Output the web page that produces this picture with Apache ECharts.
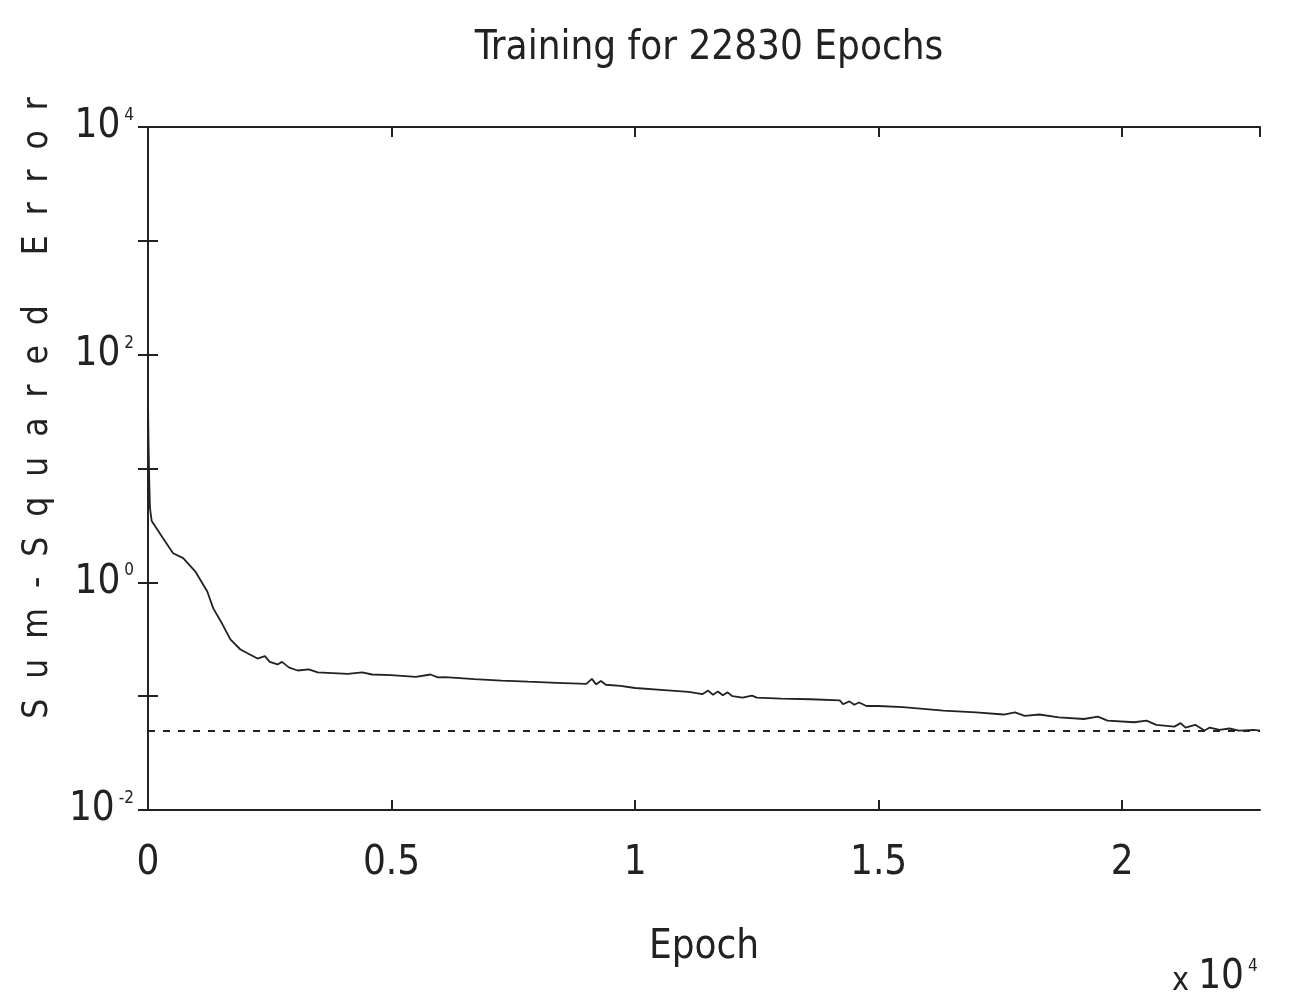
<!DOCTYPE html>
<html lang="en">
<head>
    <meta charset="UTF-8">
    <title>Training for 22830 Epochs</title>
    <script src="https://cdn.jsdelivr.net/npm/echarts@6/dist/echarts.min.js"></script>
    <style>
        html, body { margin: 0; padding: 0; background: #fff; }
        #main { width: 1290px; height: 1002px; }
    </style>
</head>
<body>
    <div id="main"></div>
    <script type="text/javascript">
        // epochs, sum-squared error off the log y axis
        var epochs = [0, 10, 25, 40, 76, 309, 515, 722, 969, 1217, 1340, 1526, 1691, 1897, 2248,
            2400, 2500, 2660, 2750, 2900, 3072, 3300, 3485, 4100, 4400, 4600, 4990, 5500, 5800,
            5950, 6100, 6700, 7258, 7800, 8400, 9000, 9113, 9200, 9300, 9400, 9700, 10000, 10600,
            11100, 11381, 11500, 11600, 11700, 11800, 11900, 12000, 12206, 12400, 12500, 13000,
            13600, 14200, 14268, 14400, 14500, 14600, 14750, 14990, 15500, 16330, 17000, 17567,
            17800, 18000, 18300, 18700, 19216, 19500, 19700, 20247, 20500, 20700, 21072, 21200,
            21300, 21500, 21690, 21800, 22000, 22200, 22400, 22700, 22830];
        var sse = [40, 18, 8, 4.5, 3.45, 2.44, 1.8, 1.63, 1.25, 0.83, 0.59, 0.43, 0.315, 0.257, 0.214,
            0.225, 0.2, 0.19, 0.2, 0.178, 0.168, 0.172, 0.162, 0.157, 0.162, 0.155, 0.153, 0.148, 0.155,
            0.146, 0.147, 0.141, 0.137, 0.134, 0.131, 0.128, 0.142, 0.127, 0.136, 0.126, 0.123, 0.118, 0.113,
            0.109, 0.104, 0.112, 0.103, 0.11, 0.102, 0.108, 0.1, 0.097, 0.101, 0.097, 0.095,
            0.094, 0.092, 0.085, 0.09, 0.084, 0.088, 0.082, 0.082, 0.080, 0.0745, 0.072, 0.069,
            0.072, 0.067, 0.069, 0.065, 0.063, 0.066, 0.061, 0.059, 0.061, 0.056, 0.054, 0.058,
            0.053, 0.056, 0.050, 0.053, 0.0505, 0.052, 0.0499, 0.0505, 0.0498];
        var goal = 0.05;
        var maxEpoch = 22830;

        var font = "'Liberation Sans Narrow', 'DejaVu Sans Condensed', 'Roboto Condensed', sans-serif";
        var ink = '#222';

        var myChart = echarts.init(document.getElementById('main'));

        var points = epochs.map(function (e, i) { return [e, sse[i]]; });

        function yLabel(v) {
            var e = Math.round(Math.log10(v));
            if (e % 2 !== 0) return '';
            return '{b|10}{s|' + e + '}';
        }

        var option = {
            backgroundColor: '#fff',
            animation: false,
            title: {
                text: 'Training for 22830 Epochs',
                left: 704,
                top: 24,
                textAlign: 'center',
                textStyle: { fontFamily: font, fontSize: 40, fontWeight: 'normal', color: ink }
            },
            grid: { left: 148, right: 30, top: 127, bottom: 192 },
            xAxis: [{
                type: 'value',
                min: 0,
                max: maxEpoch,
                interval: 5000,
                name: 'Epoch',
                nameLocation: 'middle',
                nameGap: 118,
                nameTextStyle: { fontFamily: font, fontSize: 40, color: ink },
                axisLine: { lineStyle: { color: ink, width: 2 } },
                axisTick: { inside: true, length: 10, lineStyle: { color: ink, width: 2 } },
                axisLabel: {
                    margin: 34,
                    fontFamily: font,
                    fontSize: 40,
                    color: ink,
                    showMaxLabel: false,
                    formatter: function (v) { return v % 5000 === 0 ? String(v / 10000) : ''; }
                },
                splitLine: { show: false }
            }, {
                type: 'value',
                position: 'top',
                min: 0,
                max: maxEpoch,
                interval: 5000,
                axisLine: { lineStyle: { color: ink, width: 2 } },
                axisTick: { inside: true, length: 10, lineStyle: { color: ink, width: 2 } },
                axisLabel: { show: false },
                splitLine: { show: false }
            }],
            yAxis: [{
                type: 'log',
                logBase: 10,
                min: 0.01,
                max: 10000,
                axisLine: { show: true, lineStyle: { color: ink, width: 2 } },
                axisTick: { show: true, inside: true, length: 10, lineStyle: { color: ink, width: 2 } },
                axisLabel: {
                    margin: 14,
                    formatter: yLabel,
                    rich: {
                        b: { fontFamily: font, fontSize: 40, color: ink, verticalAlign: 'bottom' },
                        s: { fontFamily: font, fontSize: 17, color: ink, verticalAlign: 'top', padding: [0, 0, 0, 4] }
                    }
                },
                splitLine: { show: false }
            }, {
                type: 'log',
                logBase: 10,
                min: 0.01,
                max: 10000,
                position: 'right',
                axisLine: { show: true, lineStyle: { color: ink, width: 2 } },
                axisTick: { show: true, inside: true, length: 10, lineStyle: { color: ink, width: 2 } },
                axisLabel: { show: false },
                splitLine: { show: false }
            }],
            graphic: [{
                type: 'text',
                x: 38,
                y: 408,
                rotation: Math.PI / 2,
                style: {
                    text: 'S  u  m  -  S  q  u  a  r  e  d     E  r  r  o  r',
                    font: '35px ' + font,
                    fill: ink,
                    align: 'center',
                    verticalAlign: 'middle'
                }
            }, {
                type: 'text',
                left: 1172,
                top: 958,
                style: {
                    text: '{x|x }{b|10}{s|4}',
                    rich: {
                        x: { fontFamily: font, fontSize: 32, fill: ink, verticalAlign: 'bottom' },
                        b: { fontFamily: font, fontSize: 40, fill: ink, verticalAlign: 'bottom' },
                        s: { fontFamily: font, fontSize: 17, fill: ink, verticalAlign: 'top', padding: [0, 0, 0, 4] }
                    }
                }
            }],
            series: [{
                name: 'Sum-Squared Error',
                type: 'line',
                data: points,
                showSymbol: false,
                lineStyle: { color: ink, width: 1.8 },
                markLine: {
                    silent: true,
                    symbol: 'none',
                    label: { show: false },
                    lineStyle: { color: ink, type: [7, 8], width: 1.8 },
                    data: [{ yAxis: goal }]
                }
            }]
        };

        myChart.setOption(option);
    </script>
</body>
</html>
